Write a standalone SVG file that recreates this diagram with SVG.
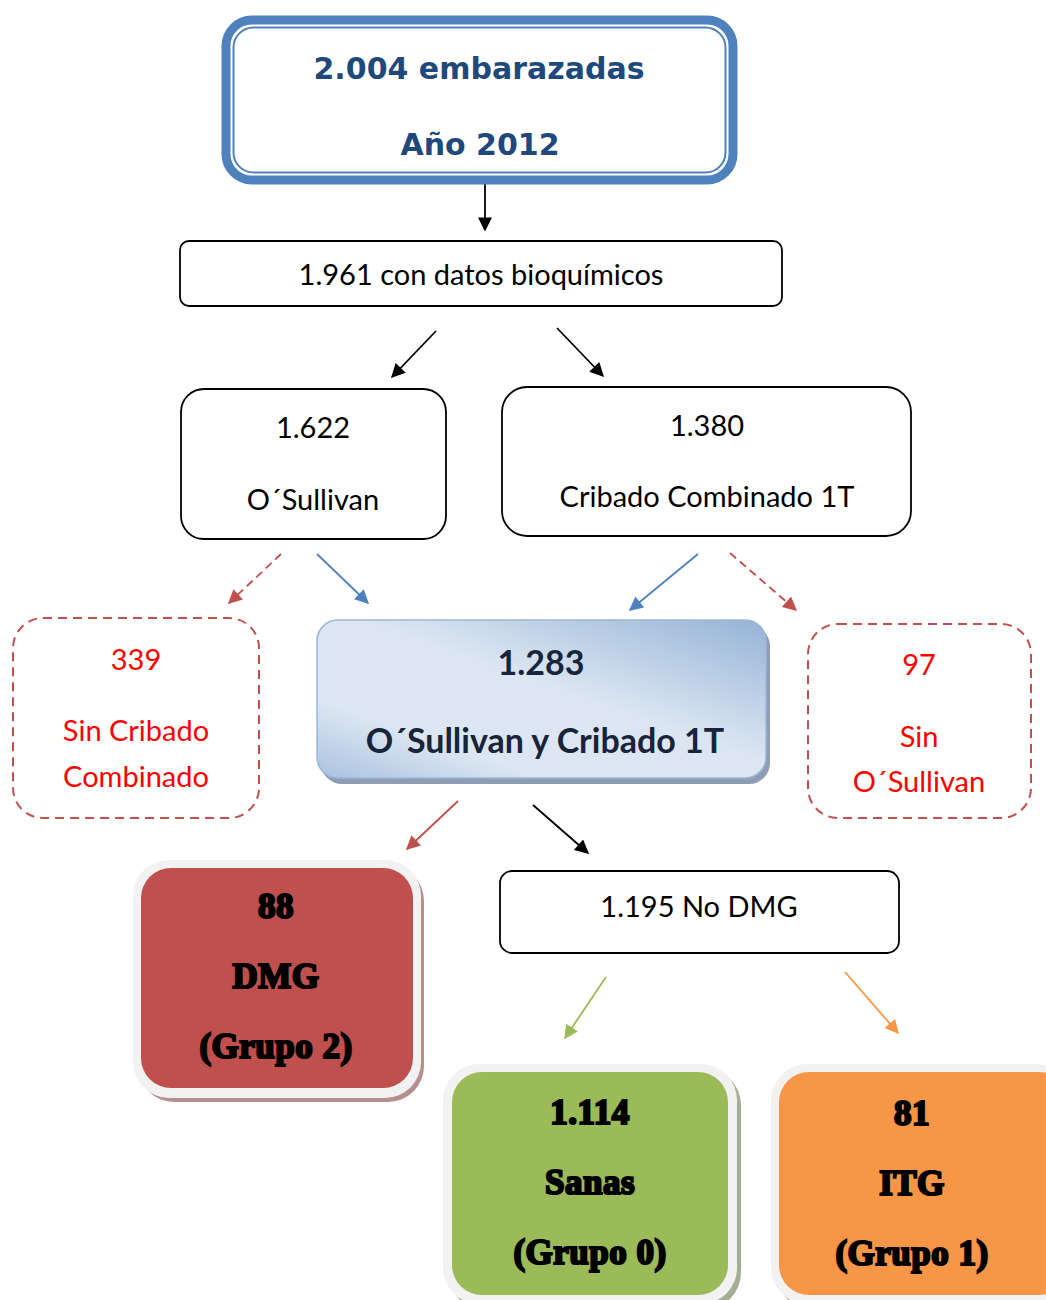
<svg xmlns="http://www.w3.org/2000/svg" width="1046" height="1300" viewBox="0 0 1046 1300">
  <style>
    .calibri { font-family: Lato, "Noto Sans", sans-serif; }
    .plain { fill: #000; font-size: 29px; text-anchor: middle; }
    .red { fill: #FF0000; font-size: 29px; text-anchor: middle; }
    .title { font-family: "DejaVu Sans", "Liberation Sans", sans-serif; font-weight: bold; font-size: 30px; fill: #1F497D; text-anchor: middle; }
    .navy { font-weight: bold; font-size: 34px; fill: #17243A; text-anchor: middle; }
    .heavy { font-family: "Liberation Serif", "DejaVu Serif", serif; font-weight: bold; font-size: 35px; fill: #000; stroke: #000; stroke-width: 2.2; text-anchor: middle; letter-spacing: 0.5px; }
    .box { fill: #fff; stroke: #000; stroke-width: 1.8; }
    .dash { fill: #fff; stroke: #C0504D; stroke-width: 2; stroke-dasharray: 9 6; }
    .frame { fill: #F2F2F2; }
    .conn { fill: none; stroke-width: 1.8; }
  </style>
  <defs>
    <marker id="ah-black" viewBox="0 0 10 10" refX="9" refY="5" markerWidth="16" markerHeight="14" markerUnits="userSpaceOnUse" orient="auto">
      <path d="M0,0 L10,5 L0,10 z" fill="#000"/>
    </marker>
    <marker id="ah-blue" viewBox="0 0 10 10" refX="9" refY="5" markerWidth="16" markerHeight="14" markerUnits="userSpaceOnUse" orient="auto">
      <path d="M0,0 L10,5 L0,10 z" fill="#4F81BD"/>
    </marker>
    <marker id="ah-red" viewBox="0 0 10 10" refX="9" refY="5" markerWidth="16" markerHeight="14" markerUnits="userSpaceOnUse" orient="auto">
      <path d="M0,0 L10,5 L0,10 z" fill="#C0504D"/>
    </marker>
    <marker id="ah-green" viewBox="0 0 10 10" refX="9" refY="5" markerWidth="16" markerHeight="14" markerUnits="userSpaceOnUse" orient="auto">
      <path d="M0,0 L10,5 L0,10 z" fill="#9BBB59"/>
    </marker>
    <marker id="ah-orange" viewBox="0 0 10 10" refX="9" refY="5" markerWidth="16" markerHeight="14" markerUnits="userSpaceOnUse" orient="auto">
      <path d="M0,0 L10,5 L0,10 z" fill="#F79646"/>
    </marker>
    <linearGradient id="blueFill" x1="1" y1="0" x2="0" y2="1">
      <stop offset="0" stop-color="#95B3D7"/>
      <stop offset="0.45" stop-color="#DCE6F2"/>
      <stop offset="0.75" stop-color="#DDE7F3"/>
      <stop offset="1" stop-color="#A9C1DF"/>
    </linearGradient>
  </defs>

  <rect width="1046" height="1300" fill="#fff"/>

  <!-- connectors -->
  <g id="connectors">
    <line class="conn" stroke="#000" x1="485" y1="178" x2="485" y2="230" marker-end="url(#ah-black)"/>
    <line class="conn" stroke="#000" x1="436" y1="331" x2="392" y2="377" marker-end="url(#ah-black)"/>
    <line class="conn" stroke="#000" x1="557" y1="328" x2="603" y2="376" marker-end="url(#ah-black)"/>
    <line class="conn" stroke="#C0504D" stroke-dasharray="8 5" x1="281" y1="554" x2="229" y2="603" marker-end="url(#ah-red)"/>
    <line class="conn" stroke="#4F81BD" x1="317" y1="554" x2="368" y2="603" marker-end="url(#ah-blue)"/>
    <line class="conn" stroke="#4F81BD" x1="698" y1="554" x2="630" y2="610" marker-end="url(#ah-blue)"/>
    <line class="conn" stroke="#C0504D" stroke-dasharray="8 5" x1="730" y1="553" x2="796" y2="610" marker-end="url(#ah-red)"/>
    <line class="conn" stroke="#C0504D" x1="458" y1="801" x2="407" y2="849" marker-end="url(#ah-red)"/>
    <line class="conn" stroke="#000" x1="533" y1="805" x2="588" y2="853" marker-end="url(#ah-black)"/>
    <line class="conn" stroke="#9BBB59" x1="606" y1="977" x2="565" y2="1038" marker-end="url(#ah-green)"/>
    <line class="conn" stroke="#F79646" x1="845" y1="972" x2="898" y2="1033" marker-end="url(#ah-orange)"/>
  </g>

  <!-- total population -->
  <g id="n-total">
    <rect x="226" y="20" width="507" height="160" rx="26" fill="#fff" stroke="#4F81BD" stroke-width="9"/>
    <rect x="233.5" y="27.5" width="492" height="145" rx="20" fill="none" stroke="#4F81BD" stroke-width="2"/>
    <text class="title" x="479" y="79">2.004 embarazadas</text>
    <text class="title" x="480" y="155">Año 2012</text>
  </g>

  <g id="n-bioquimicos">
    <rect class="box" x="180" y="241" width="602" height="65" rx="9"/>
    <text class="calibri plain" x="481" y="285">1.961 con datos bioquímicos</text>
  </g>

  <g id="n-osullivan">
    <rect class="box" x="181" y="389" width="265" height="150" rx="23"/>
    <text class="calibri plain" x="313" y="438">1.622</text>
    <text class="calibri plain" x="313" y="510">O´Sullivan</text>
  </g>

  <g id="n-cribado">
    <rect class="box" x="502" y="387" width="409" height="149" rx="25"/>
    <text class="calibri plain" x="707" y="436">1.380</text>
    <text class="calibri plain" x="707" y="507">Cribado Combinado 1T</text>
  </g>

  <g id="n-sin-cribado">
    <rect class="dash" x="13" y="618" width="246" height="200" rx="30"/>
    <text class="calibri red" x="136" y="670">339</text>
    <text class="calibri red" x="136" y="741">Sin Cribado</text>
    <text class="calibri red" x="136" y="787">Combinado</text>
  </g>

  <g id="n-sin-osullivan">
    <rect class="dash" x="808" y="624" width="223" height="194" rx="30"/>
    <text class="calibri red" x="919" y="675">97</text>
    <text class="calibri red" x="919" y="747">Sin</text>
    <text class="calibri red" x="919" y="792">O´Sullivan</text>
  </g>

  <g id="n-ambos">
    <rect x="321" y="625" width="449" height="159" rx="21" fill="#8E9DB3"/>
    <rect x="317" y="620" width="449" height="158" rx="21" fill="url(#blueFill)" stroke="#9DB6D8" stroke-width="1.5"/>
    <text class="calibri navy" x="541" y="675">1.283</text>
    <text class="calibri navy" x="545" y="753">O´Sullivan y Cribado 1T</text>
  </g>

  <g id="n-dmg">
    <rect x="138" y="865" width="286" height="237" rx="36" fill="#B48F8E"/>
    <rect class="frame" x="133" y="860" width="288" height="238" rx="36"/>
    <rect x="141" y="868" width="272" height="220" rx="30" fill="#C0504D"/>
    <text class="heavy" x="276" y="918">88</text>
    <text class="heavy" x="276" y="988">DMG</text>
    <text class="heavy" x="276" y="1058">(Grupo 2)</text>
  </g>

  <g id="n-nodmg">
    <rect class="box" x="500" y="871" width="399" height="82" rx="12"/>
    <text class="calibri plain" x="699" y="917">1.195 No DMG</text>
  </g>

  <g id="n-sanas">
    <rect x="448" y="1069" width="293" height="240" rx="36" fill="#A6AD95"/>
    <rect class="frame" x="443" y="1064" width="294" height="240" rx="36"/>
    <rect x="452" y="1072" width="276" height="223" rx="30" fill="#9BBB59"/>
    <text class="heavy" x="590" y="1124">1.114</text>
    <text class="heavy" x="590" y="1194">Sanas</text>
    <text class="heavy" x="590" y="1264">(Grupo 0)</text>
  </g>

  <g id="n-itg">
    <rect x="776" y="1069" width="300" height="240" rx="36" fill="#C9A68C"/>
    <rect class="frame" x="771" y="1064" width="300" height="240" rx="36"/>
    <rect x="779" y="1072" width="290" height="223" rx="30" fill="#F79646"/>
    <text class="heavy" x="912" y="1125">81</text>
    <text class="heavy" x="912" y="1195">ITG</text>
    <text class="heavy" x="912" y="1265">(Grupo 1)</text>
  </g>
</svg>
